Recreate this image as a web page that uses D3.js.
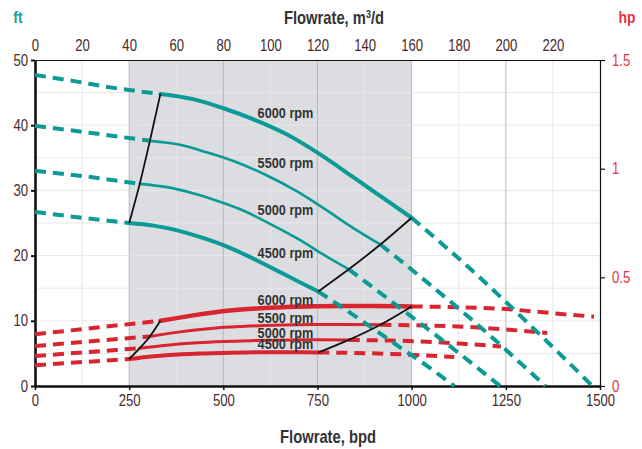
<!DOCTYPE html>
<html>
<head>
	<meta charset="utf-8">
	<title>Pump curves</title>
	<script src="https://cdn.jsdelivr.net/npm/d3@7"></script>
	<style>
		body { margin: 0; background: #fff; }
		text { font-family: "Liberation Sans", Arial, sans-serif; }
	</style>
</head>
<body>
<div id="chart"></div>
<script>

	// data (flow in bpd, head in ft, power in hp)

	const speeds = ["4500 rpm", "5000 rpm", "5500 rpm", "6000 rpm"];
	const solidStart = [250, 278, 305, 333];
	const solidEnd = [752, 833, 917, 1000];

	const head4500 = [[0,26.7],[125,25.8],[250,25.0],[315,24.6],[375,23.9],[435,22.9],[500,21.6],[570,19.8],[632,18.0],[690,16.3],[752,14.5],[868,10.0],[967,6.0],[1055,2.5],[1113,0]];
	const head5000 = [[0,33.0],[140,32.1],[278,31.0],[350,30.5],[417,29.6],[483,28.4],[557,26.8],[633,24.6],[703,22.4],[767,20.1],[833,17.9],[964,12.2],[1111,5.7],[1235,0]];
	const head5500 = [[0,39.9],[150,38.8],[305,37.6],[385,37.0],[458,35.8],[532,34.4],[612,32.4],[697,29.8],[773,27.0],[843,24.3],[917,21.7],[967,19.4],[1060,15.0],[1153,10.5],[1355,0]];
	const head6000 = [[0,47.7],[100,46.8],[200,45.8],[333,44.8],[420,44.0],[500,42.6],[580,40.9],[668,38.6],[760,35.4],[843,32.1],[920,29.0],[1000,25.8],[1157,17.9],[1333,8.3],[1480,0]];

	const power4500 = [[0,0.095],[125,0.110],[250,0.124],[315,0.137],[388,0.146],[450,0.150],[520,0.153],[606,0.155],[675,0.155],[752,0.154],[850,0.152],[938,0.148],[1030,0.141],[1113,0.133]];
	const power5000 = [[0,0.138],[140,0.156],[278,0.174],[350,0.188],[430,0.199],[500,0.205],[580,0.209],[673,0.212],[750,0.213],[833,0.212],[945,0.209],[1040,0.204],[1145,0.193],[1237,0.182]];
	const power5500 = [[0,0.184],[150,0.206],[305,0.228],[385,0.249],[474,0.266],[550,0.274],[635,0.280],[740,0.283],[825,0.283],[917,0.282],[1040,0.278],[1146,0.272],[1258,0.259],[1360,0.244]];
	const power6000 = [[0,0.238],[165,0.269],[333,0.300],[420,0.325],[517,0.347],[600,0.358],[693,0.365],[808,0.368],[900,0.368],[1000,0.366],[1134,0.362],[1250,0.354],[1373,0.335],[1484,0.319]];

	const heads = [head4500, head5000, head5500, head6000];
	const powers = [power4500, power5000, power5500, power6000];

	const bpdTicks = [0, 250, 500, 750, 1000, 1250, 1500];
	const m3dTicks = [0, 20, 40, 60, 80, 100, 120, 140, 160, 180, 200, 220];
	const ftTicks = [0, 10, 20, 30, 40, 50];
	const hpTicks = [0, 0.5, 1, 1.5];
	const hpLabels = ["0", "0.5", "1", "1.5"];
	const operatingRange = [250, 1000];

	// styling

	const width = 642, height = 449;
	const teal = "#0b9a95";
	const red = "#d9252f";
	const tickColor = "#4a2a2a";
	const labelColor = "#333333";
	const solidWidths = [4, 2.6, 2.6, 4];
	const powerWidths = [4, 3, 3, 4.5];
	const labelQ = 591;
	const narrow = 0.82; // no narrow font installed, squeeze Liberation Sans instead

	const svg = d3.select("#chart")
		.append("svg")
		.attr("width", width)
		.attr("height", height);

	const x = d3.scaleLinear().domain([0, 1500]).range([35, 600]);
	const xTop = d3.scaleLinear().domain([0, 240]).range([35, 600]);
	const y = d3.scaleLinear().domain([0, 50]).range([386, 60]);
	const yR = d3.scaleLinear().domain([0, 1.5]).range([386, 60]);

	function condense(sel) {
		sel.each(function() {
			const t = d3.select(this);
			const tx = +t.attr("x") || 0, ty = +t.attr("y") || 0;
			t.attr("x", 0).attr("y", 0)
				.attr("transform", `translate(${tx},${ty}) scale(${narrow},1)`);
		});
	}

	// shaded operating range
	svg.append("rect")
		.attr("x", x(operatingRange[0]))
		.attr("y", y(50))
		.attr("width", x(operatingRange[1]) - x(operatingRange[0]))
		.attr("height", y(0) - y(50))
		.attr("fill", "#dcdde0");

	// grid
	svg.append("g")
		.selectAll("line")
		.data(d3.range(5, 50, 5))
		.join("line")
		.attr("x1", x(0)).attr("x2", x(1500))
		.attr("y1", d => y(d)).attr("y2", d => y(d))
		.attr("stroke", "#e8e8e8")
		.attr("stroke-width", 1);

	svg.append("g")
		.selectAll("line")
		.data(d3.range(125, 1500, 125))
		.join("line")
		.attr("x1", d => x(d)).attr("x2", d => x(d))
		.attr("y1", y(50)).attr("y2", y(0))
		.attr("stroke", d => d % 250 === 0 ? "#b9b9bc" : "#e6e6e6")
		.attr("stroke-width", 1);

	// axes
	const axisLeft = svg.append("g")
		.attr("transform", `translate(${x(0)},0)`)
		.call(d3.axisLeft(y).tickValues(ftTicks).tickSize(4).tickSizeOuter(0).tickPadding(3));
	axisLeft.select(".domain").attr("stroke", "#111").attr("stroke-width", 2.6);
	axisLeft.selectAll(".tick line").attr("stroke", "#111").attr("stroke-width", 2);

	const axisBottom = svg.append("g")
		.attr("transform", `translate(0,${y(0)})`)
		.call(d3.axisBottom(x).tickValues(bpdTicks).tickFormat(d3.format("d")).tickSize(4).tickSizeOuter(0).tickPadding(5));
	axisBottom.select(".domain").attr("stroke", "#111").attr("stroke-width", 2.6);
	axisBottom.selectAll(".tick line").attr("stroke", "#111").attr("stroke-width", 1.5);

	const axisTop = svg.append("g")
		.attr("transform", `translate(0,${y(50)})`)
		.call(d3.axisTop(xTop).tickValues(m3dTicks).tickSize(0).tickSizeOuter(0).tickPadding(9));
	axisTop.select(".domain").attr("stroke", "#111").attr("stroke-width", 1.2);

	const axisRight = svg.append("g")
		.attr("transform", `translate(${x(1500)},0)`)
		.call(d3.axisRight(yR).tickValues(hpTicks).tickFormat((d, i) => hpLabels[i]).tickSize(5).tickSizeOuter(0).tickPadding(7));
	axisRight.select(".domain").attr("stroke", "#111").attr("stroke-width", 1.2);
	axisRight.selectAll(".tick line").attr("stroke", "#111").attr("stroke-width", 1.2);

	svg.selectAll(".tick text")
		.attr("font-size", 16)
		.attr("fill", tickColor)
		.call(condense);
	axisRight.selectAll(".tick text").attr("fill", "#e3343d");

	// axis titles
	const topTitle = svg.append("text")
		.attr("x", 334).attr("y", 24)
		.attr("text-anchor", "middle")
		.attr("font-size", 18).attr("font-weight", "bold")
		.attr("fill", labelColor)
		.text("Flowrate, m");
	topTitle.append("tspan").attr("dy", -6).attr("font-size", 11).text("3");
	topTitle.append("tspan").attr("dy", 6).text("/d");

	svg.append("text")
		.attr("x", 328).attr("y", 443)
		.attr("text-anchor", "middle")
		.attr("font-size", 18).attr("font-weight", "bold")
		.attr("fill", labelColor)
		.text("Flowrate, bpd");

	svg.append("text")
		.attr("x", 18).attr("y", 23)
		.attr("text-anchor", "middle")
		.attr("font-size", 17).attr("font-weight", "bold")
		.attr("fill", "#17a39c")
		.text("ft");

	svg.append("text")
		.attr("x", 627).attr("y", 23)
		.attr("text-anchor", "middle")
		.attr("font-size", 17).attr("font-weight", "bold")
		.attr("fill", "#e3343d")
		.text("hp");

	// curves
	const lineHead = d3.line().x(d => x(d[0])).y(d => y(d[1])).curve(d3.curveMonotoneX);
	const linePower = d3.line().x(d => x(d[0])).y(d => yR(d[1])).curve(d3.curveMonotoneX);

	function drawCurve(pts, i, line, color, solidWidth) {
		const s = solidStart[i], e = solidEnd[i];
		const left = pts.filter(p => p[0] <= s);
		const mid = pts.filter(p => p[0] >= s && p[0] <= e);
		const right = pts.filter(p => p[0] >= e);
		[left, right].forEach(seg => {
			svg.append("path")
				.attr("d", line(seg))
				.attr("fill", "none")
				.attr("stroke", color)
				.attr("stroke-width", 4)
				.attr("stroke-dasharray", "11,7");
		});
		svg.append("path")
			.attr("d", line(mid))
			.attr("fill", "none")
			.attr("stroke", color)
			.attr("stroke-width", solidWidth)
			.attr("stroke-linecap", "round");
	}

	powers.forEach((pts, i) => drawCurve(pts, i, linePower, red, powerWidths[i]));
	heads.forEach((pts, i) => drawCurve(pts, i, lineHead, teal, solidWidths[i]));

	// limit lines joining the ends of the operating range
	const at = (pts, q) => pts.find(p => p[0] === q);
	const limits = [
		[heads.map((p, i) => at(p, solidStart[i])), lineHead],
		[heads.map((p, i) => at(p, solidEnd[i])), lineHead],
		[powers.map((p, i) => at(p, solidStart[i])), linePower],
		[powers.map((p, i) => at(p, solidEnd[i])), linePower]
	];
	limits.forEach(([pts, line]) => {
		svg.append("path")
			.attr("d", line(pts))
			.attr("fill", "none")
			.attr("stroke", "#111")
			.attr("stroke-width", 1.8);
	});

	// speed labels
	function valueAt(pts, q) {
		const k = pts.findIndex(p => p[0] >= q);
		const a = pts[k - 1], b = pts[k];
		return a[1] + (b[1] - a[1]) * (q - a[0]) / (b[0] - a[0]);
	}

	heads.forEach((pts, i) => {
		svg.append("text")
			.attr("x", x(labelQ))
			.attr("y", y(valueAt(pts, labelQ)) - 3)
			.attr("font-size", 15.5).attr("font-weight", "bold")
			.attr("fill", labelColor)
			.text(speeds[i]);
	});
	powers.forEach((pts, i) => {
		svg.append("text")
			.attr("x", x(labelQ))
			.attr("y", yR(valueAt(pts, labelQ)) - 3)
			.attr("font-size", 15.5).attr("font-weight", "bold")
			.attr("fill", labelColor)
			.text(speeds[i]);
	});

	svg.selectAll("svg > text").call(condense);

</script>
</body>
</html>
